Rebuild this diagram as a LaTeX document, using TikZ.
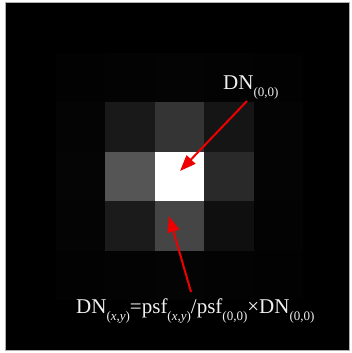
\documentclass[tikz,border=0pt]{standalone}
\usepackage{fontspec}
\setmainfont{Liberation Serif}
\usetikzlibrary{arrows.meta}
\definecolor{arrred}{RGB}{238,0,0}
\definecolor{txtcol}{RGB}{240,240,240}
\definecolor{framecol}{RGB}{175,175,175}
\newcommand\sbx[1]{\raisebox{-7.2pt}{\fontsize{13}{13}\selectfont #1}}
\begin{document}
\begin{tikzpicture}[x=1pt,y=-1pt,
  pointer/.style={draw=arrred, line width=2pt, -{Triangle[length=16pt,width=12pt]}},
  lbl/.style={text=txtcol, inner sep=0pt, anchor=base west, font=\fontsize{21}{21}\selectfont}]
\useasboundingbox (0,0) rectangle (351,353);
\fill[white] (0,0) rectangle (351,353);
\filldraw[fill=black, draw=framecol, line width=1pt] (5,3) rectangle (349.5,350.5);
% 5x5 grid of pixel cells: column/row/gray value
\foreach \c/\r/\g in {
  1/1/2, 2/1/3, 3/1/4, 4/1/3, 5/1/2,
  1/2/4, 2/2/25, 3/2/52, 4/2/21, 5/2/4,
  1/3/5, 2/3/85, 3/3/255, 4/3/41, 5/3/4,
  1/4/4, 2/4/27, 3/4/69, 4/4/15, 5/4/3,
  1/5/2, 2/5/3, 3/5/4, 4/5/3, 5/5/2}{
  \fill[fill={rgb,255:red,\g;green,\g;blue,\g}]
    ({56+(\c-1)*49.4},{53+(\r-1)*49.4}) rectangle ++(49.4,49.4);
}
\node[lbl] (toplbl) at (223,89.5) {DN\sbx{(0,0)}};
\node[lbl] (eqlbl) at (76,313.3) {DN\sbx{(\textit{x},\textit{y})}=psf\sbx{(\textit{x},\textit{y})}/psf\sbx{(0,0)}×DN\sbx{(0,0)}};
\coordinate (s1) at (247,101);
\coordinate (t1) at (180,171);
\coordinate (s2) at (191,292);
\coordinate (t2) at (169,216);
\draw[pointer] (s1) -- (t1);
\draw[pointer] (s2) -- (t2);
\end{tikzpicture}
\end{document}
